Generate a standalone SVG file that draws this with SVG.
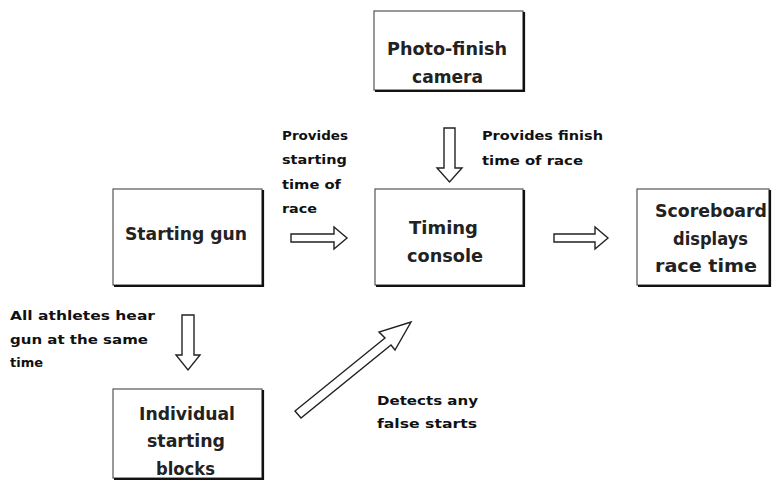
<svg xmlns="http://www.w3.org/2000/svg" width="780" height="484" viewBox="0 0 780 484">
<style>
.box{fill:#fff;stroke:#555;stroke-width:1.2}
.sh{fill:none;stroke:#111;stroke-width:2.2}
.nt{font-family:"DejaVu Sans","Liberation Sans",sans-serif;font-size:17px;font-weight:bold;fill:#222}
.lb{font-family:"DejaVu Sans","Liberation Sans",sans-serif;font-size:12px;font-weight:bold;fill:#111}
.ar{fill:#fff;stroke:#222;stroke-width:1.4;stroke-linejoin:miter}
</style>
<rect width="780" height="484" fill="#fff"/>
<g id="camera">
<rect class="box" x="374" y="11" width="149" height="79"/>
<polyline class="sh" points="524,12 524,91 375,91"/>
<text class="nt" x="387" y="55" textLength="120" lengthAdjust="spacingAndGlyphs">Photo-finish</text>
<text class="nt" x="412" y="83" textLength="71" lengthAdjust="spacingAndGlyphs">camera</text>
</g>
<g id="gun">
<rect class="box" x="113" y="189" width="149" height="96"/>
<polyline class="sh" points="263,190 263,286 114,286"/>
<text class="nt" x="125" y="240" textLength="122" lengthAdjust="spacingAndGlyphs">Starting gun</text>
</g>
<g id="console">
<rect class="box" x="375" y="189" width="148" height="96"/>
<polyline class="sh" points="524,190 524,286 376,286"/>
<text class="nt" x="409" y="234" textLength="69" lengthAdjust="spacingAndGlyphs">Timing</text>
<text class="nt" x="407" y="262" textLength="76" lengthAdjust="spacingAndGlyphs">console</text>
</g>
<g id="scoreboard">
<rect class="box" x="637" y="189" width="132" height="96"/>
<polyline class="sh" points="770,190 770,286 638,286"/>
<text class="nt" x="655" y="217" textLength="112" lengthAdjust="spacingAndGlyphs">Scoreboard</text>
<text class="nt" x="673" y="245" textLength="75" lengthAdjust="spacingAndGlyphs">displays</text>
<text class="nt" x="655" y="272" textLength="102" lengthAdjust="spacingAndGlyphs">race time</text>
</g>
<g id="blocks">
<rect class="box" x="113" y="389" width="149" height="89"/>
<polyline class="sh" points="263,390 263,479 114,479"/>
<text class="nt" x="139" y="420" textLength="96" lengthAdjust="spacingAndGlyphs">Individual</text>
<text class="nt" x="147" y="447" textLength="78" lengthAdjust="spacingAndGlyphs">starting</text>
<text class="nt" x="156" y="475" textLength="59" lengthAdjust="spacingAndGlyphs">blocks</text>
</g>
<g id="connectors">
<polygon class="ar" points="291,234 334,234 334,227 347,238 334,249 334,242 291,242"/>
<polygon class="ar" points="554,234 595,234 595,227 608,238 595,249 595,242 554,242"/>
<polygon class="ar" points="444,128 455,128 455,168 462,168 449.5,182 437,168 444,168"/>
<polygon class="ar" points="182,315 194,315 194,355 200,355 188,370 176,355 182,355"/>
<polygon class="ar" points="295,411 385,338 379,332 411,322 395,350 391,345 301,418"/>
</g>
<g id="labels">
<text class="lb" x="282" y="140" textLength="66" lengthAdjust="spacingAndGlyphs">Provides</text>
<text class="lb" x="282" y="164" textLength="65" lengthAdjust="spacingAndGlyphs">starting</text>
<text class="lb" x="282" y="189" textLength="59" lengthAdjust="spacingAndGlyphs">time of</text>
<text class="lb" x="282" y="213" textLength="35" lengthAdjust="spacingAndGlyphs">race</text>
<text class="lb" x="482" y="140" textLength="121" lengthAdjust="spacingAndGlyphs">Provides finish</text>
<text class="lb" x="482" y="165" textLength="101" lengthAdjust="spacingAndGlyphs">time of race</text>
<text class="lb" x="10" y="320" textLength="145" lengthAdjust="spacingAndGlyphs">All athletes hear</text>
<text class="lb" x="10" y="344" textLength="138" lengthAdjust="spacingAndGlyphs">gun at the same</text>
<text class="lb" x="10" y="367" textLength="33" lengthAdjust="spacingAndGlyphs">time</text>
<text class="lb" x="377" y="405" textLength="101" lengthAdjust="spacingAndGlyphs">Detects any</text>
<text class="lb" x="377" y="428" textLength="100" lengthAdjust="spacingAndGlyphs">false starts</text>
</g>
</svg>
